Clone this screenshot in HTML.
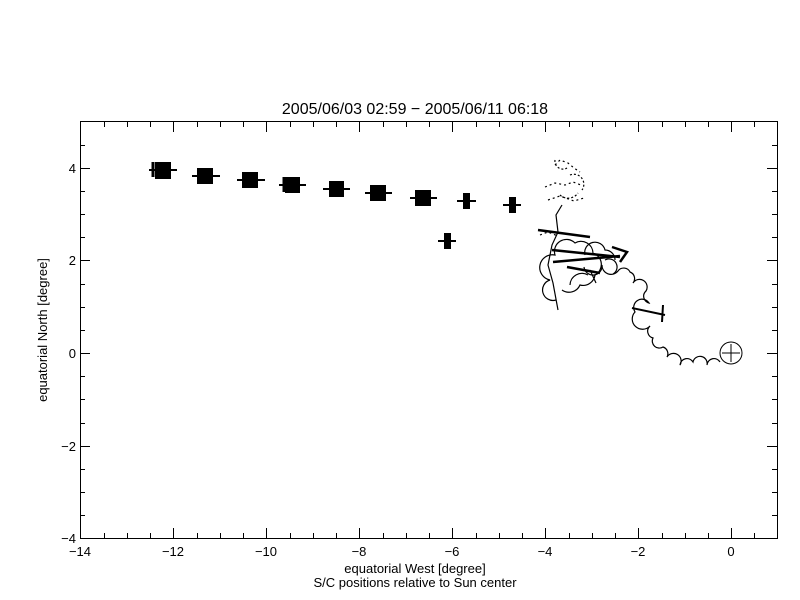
<!DOCTYPE html>
<html><head><style>body{margin:0;background:#fff}svg{display:block}text{font-family:"Liberation Sans",sans-serif;fill:#000}</style></head><body>
<svg width="800" height="600" xmlns="http://www.w3.org/2000/svg">
<rect width="800" height="600" fill="#fff"/>
<text x="415" y="114" font-size="16" text-anchor="middle">2005/06/03 02:59 − 2005/06/11 06:18</text>
<g stroke="#000" stroke-width="1" fill="none" shape-rendering="crispEdges">
<rect x="80.5" y="121.5" width="697" height="417"/>
<path id="t" d="
M80.5 538v-10M173.5 538v-10M266.5 538v-10M359.5 538v-10M452.5 538v-10M545.5 538v-10M638.5 538v-10M731.5 538v-10
M80.5 122v10M173.5 122v10M266.5 122v10M359.5 122v10M452.5 122v10M545.5 122v10M638.5 122v10M731.5 122v10
M127.5 538v-5M220.5 538v-5M313.5 538v-5M406.5 538v-5M499.5 538v-5M592.5 538v-5M685.5 538v-5M754.5 538v-5
M104.5 538v-5M150.5 538v-5M197.5 538v-5M243.5 538v-5M290.5 538v-5M336.5 538v-5M383.5 538v-5M429.5 538v-5M476.5 538v-5M522.5 538v-5M569.5 538v-5M615.5 538v-5M662.5 538v-5M708.5 538v-5M754.5 538v-5
M127.5 122v5M220.5 122v5M313.5 122v5M406.5 122v5M499.5 122v5M592.5 122v5M685.5 122v5
M104.5 122v5M150.5 122v5M197.5 122v5M243.5 122v5M290.5 122v5M336.5 122v5M383.5 122v5M429.5 122v5M476.5 122v5M522.5 122v5M569.5 122v5M615.5 122v5M662.5 122v5M708.5 122v5M754.5 122v5
M80 538.5h10M80 446.5h10M80 353.5h10M80 260.5h10M80 168.5h10
M777 538.5h-10M777 446.5h-10M777 353.5h-10M777 260.5h-10M777 168.5h-10
M80 515.5h5M80 492.5h5M80 469.5h5M80 423.5h5M80 399.5h5M80 376.5h5M80 330.5h5M80 307.5h5M80 284.5h5M80 237.5h5M80 214.5h5M80 191.5h5M80 145.5h5
M777 515.5h-5M777 492.5h-5M777 469.5h-5M777 423.5h-5M777 399.5h-5M777 376.5h-5M777 330.5h-5M777 307.5h-5M777 284.5h-5M777 237.5h-5M777 214.5h-5M777 191.5h-5M777 145.5h-5"/>
</g>
<g font-size="13" text-anchor="middle">
<text x="80" y="556">−14</text><text x="173" y="556">−12</text><text x="266" y="556">−10</text><text x="359" y="556">−8</text><text x="452" y="556">−6</text><text x="545" y="556">−4</text><text x="638" y="556">−2</text><text x="731" y="556">0</text>
</g>
<g font-size="13" text-anchor="end">
<text x="76" y="543">−4</text><text x="76" y="451">−2</text><text x="76" y="358">0</text><text x="76" y="265">2</text><text x="76" y="173">4</text>
</g>
<text x="415" y="573" font-size="13" text-anchor="middle">equatorial West [degree]</text>
<text x="415" y="587" font-size="13" text-anchor="middle">S/C positions relative to Sun center</text>
<text transform="translate(47,330) rotate(-90)" font-size="13" text-anchor="middle">equatorial North [degree]</text>
<!-- markers -->
<g fill="#000" stroke="#000" stroke-width="2">
<rect x="156" y="163" width="14" height="15"/><line x1="149" y1="170" x2="177" y2="170"/><line x1="153" y1="162" x2="153" y2="177" stroke-width="3"/>
<rect x="198" y="169" width="14" height="14"/><line x1="192" y1="176" x2="220" y2="176"/>
<rect x="243" y="173" width="14" height="14"/><line x1="237" y1="180" x2="265" y2="180"/>
<rect x="286" y="178" width="13" height="14"/><line x1="279" y1="185" x2="306" y2="185"/><line x1="284" y1="177" x2="284" y2="192" stroke-width="3"/>
<rect x="330" y="182" width="13" height="14"/><line x1="323" y1="189" x2="350" y2="189"/>
<rect x="371" y="186" width="14" height="14"/><line x1="365" y1="193" x2="392" y2="193"/>
<rect x="416" y="191" width="14" height="14"/><line x1="410" y1="198" x2="437" y2="198"/>
<line x1="457" y1="201" x2="476" y2="201"/><rect x="464" y="194" width="5" height="14"/>
<line x1="503" y1="205" x2="521" y2="205"/><rect x="510" y="198" width="5" height="14"/>
<line x1="438" y1="241" x2="456" y2="241"/><rect x="445" y="234" width="5" height="14"/>
</g>
<!-- trajectory -->
<g fill="none" stroke="#000" stroke-width="1.2">
<path d="M720 362 a7 7 0 0 0 -13 3 a7 7 0 0 0 -14 -3 a7 7 0 0 0 -13 3 a7 7 0 0 0 -13 -8 a7 7 0 0 0 -4 -10 a7 7 0 0 1 -10 -9 a7 7 0 0 1 -3 -12 a7 7 0 0 1 -15 -14 a7 7 0 0 1 14 -9 a7 7 0 0 1 -3 -12 a7 7 0 0 0 -13 -8 a7 7 0 0 0 -3 -11 a7 7 0 0 0 -12 -1 a9 9 0 0 1 -16 -6 a9 9 0 0 1 -18 2"/>
<path d="M632 308 L665 315 M663 305 L662 322" stroke-width="2"/>
<path d="M538 230 L590 237 M552 250 L620 257 M567 267 L600 273 M553 262 L620 256 M612 247 L627 252 L620 262" stroke-width="2.5"/>
<path d="M558 310 L553 283 L548 265 L552 245 L558 232 L556 215 L562 205 M556 300 a10 10 0 0 1 -6 -20 a12 12 0 0 1 5 -25 a12 12 0 0 1 20 -12 a12 12 0 0 1 18 10 a12 12 0 0 1 2 22 a12 12 0 0 1 -15 10 a12 12 0 0 1 -18 5 M570 285 a12 12 0 0 1 18 -10 M585 255 a10 10 0 0 1 20 -5 a10 10 0 0 1 10 10 M590 270 L596 283 M605 260 a8 8 0 0 1 8 14"/>
<path d="M555 165 l5 -5 l8 3 l6 5 l6 4 M545 187 l10 -4 l10 2 l8 -3 l8 3 M548 200 l12 -4 l14 5 l10 -3 M540 235 l8 -3 l10 4" stroke-dasharray="2 3"/>
<path d="M555 160 a8 8 0 0 0 12 8 M560 195 a12 12 0 0 0 18 -2 M570 175 a10 10 0 0 1 12 15" stroke-dasharray="2 2"/>
<circle cx="731" cy="353" r="11" stroke-width="1"/>
<path d="M722 353h18M731 344v18" stroke-width="1"/>
</g>
</svg>
</body></html>
